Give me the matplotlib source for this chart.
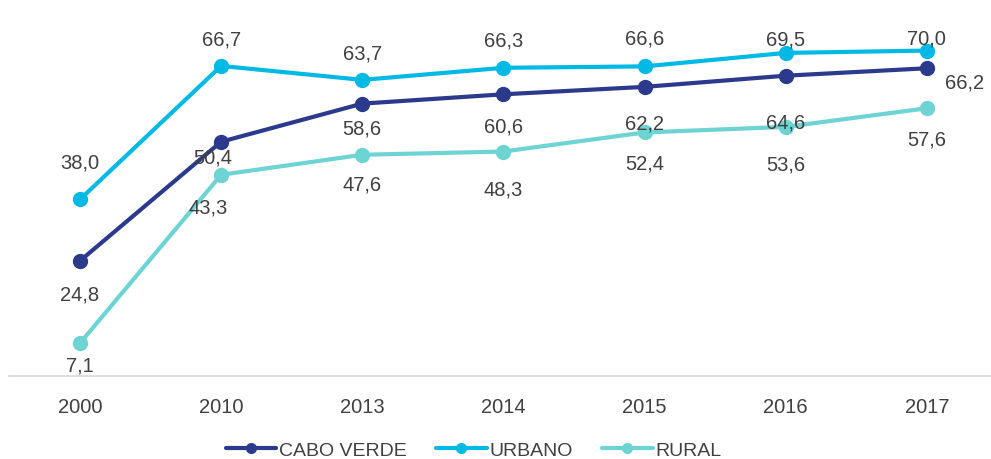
import matplotlib.pyplot as plt

years = ['2000', '2010', '2013', '2014', '2015', '2016', '2017']
cabo_verde = [24.8, 50.4, 58.6, 60.6, 62.2, 64.6, 66.2]
urbano = [38.0, 66.7, 63.7, 66.3, 66.6, 69.5, 70.0]
rural = [7.1, 43.3, 47.6, 48.3, 52.4, 53.6, 57.6]

plt.rcParams['font.family'] = ['Liberation Sans', 'DejaVu Sans']

fig = plt.figure(figsize=(9.91, 4.6), dpi=100)
ax = fig.add_axes([0.0095, 0.18, 0.997, 0.809])

x = range(len(years))
series = [
    ('CABO VERDE', cabo_verde, '#2B3A8C'),
    ('URBANO', urbano, '#00B9E4'),
    ('RURAL', rural, '#6DD3D3'),
]
for name, vals, col in series:
    ax.plot(x, vals, color=col, lw=3, marker='o', ms=10, label=name,
            solid_capstyle='round', clip_on=False)

# label offsets in pixels (dx, dy), positive dy = up
px = 0.72
cv_off = [(0, -33), (-8, -15), (0, -24), (0, -32), (0, -36), (0, -46), (38, -14)]
ur_off = [(0, 37), (0, 27), (0, 27), (0, 28), (0, 28), (0, 14), (0, 13)]
ru_off = [(0, -22), (-13, -32), (0, -29), (0, -37), (0, -31), (0, -37), (0, -31)]
for vals, offs in [(cabo_verde, cv_off), (urbano, ur_off), (rural, ru_off)]:
    for i, v in enumerate(vals):
        dx, dy = offs[i]
        ax.annotate(f'{v:.1f}'.replace('.', ','), (i, v),
                    xytext=(dx * px, dy * px), textcoords='offset points',
                    ha='center', va='center', fontsize=14.5, color='#404040')

ax.set_xlim(-0.5, 6.5)
ax.set_ylim(0, 80)
ax.set_xticks(list(x))
ax.set_xticklabels(years, fontsize=14.5, color='#404040')
ax.set_yticks([])
ax.tick_params(axis='x', length=0, pad=15)
for s in ['top', 'right', 'left']:
    ax.spines[s].set_visible(False)
ax.spines['bottom'].set_color('#D9D9D9')
ax.spines['bottom'].set_linewidth(1.2)

leg = fig.legend(loc='center', bbox_to_anchor=(0.478, 0.02), ncol=3, frameon=False,
                 fontsize=14, handlelength=2.6, columnspacing=1.5, handletextpad=0.15,
                 markerscale=0.7, labelcolor='#404040')

fig.savefig('out.png', dpi=100)
